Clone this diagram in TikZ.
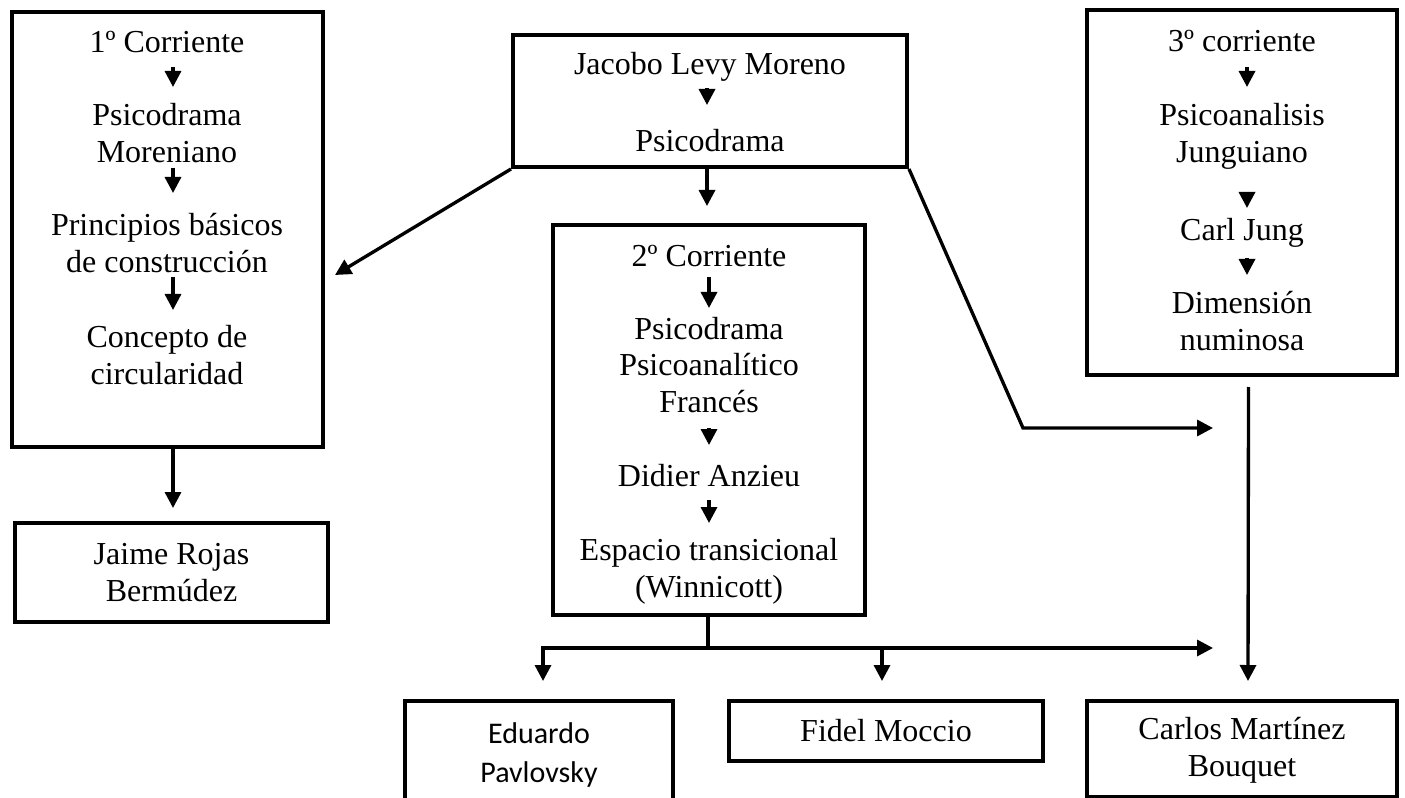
\documentclass[tikz,border=0pt]{standalone}
\usepackage{fontspec}
\setmainfont{Liberation Serif}
\newfontfamily\calibrifont{Carlito}
\usetikzlibrary{arrows.meta,calc,fit}

\begin{document}
\begin{tikzpicture}[x=0.75pt,y=-0.75pt,
  box/.style={draw, line width=3pt, inner sep=0pt},
  txt/.style={font=\fontsize{24}{27.6}\selectfont, align=center, inner sep=0pt},
  sanstxt/.style={font=\calibrifont\fontsize{22.5}{29.5}\selectfont, align=center, inner sep=0pt},
  link/.style={line width=2.5pt},
  arr/.style={link, -{Triangle[length=12pt,width=12pt]}}
]
\useasboundingbox (0,0) rectangle (1405,798);

% ---- frames ----
\node[box, fit={(12,12) (323,447)}] (box1) {};
\node[box, fit={(513,35) (907,167)}] (moreno) {};
\node[box, fit={(553,225) (865,615)}] (box2) {};
\node[box, fit={(1087,10) (1397,375)}] (box3) {};
\node[box, fit={(15,523) (328,622)}] (jaime) {};
\node[box, fit={(405,701) (673,840)}] (eduardo) {};
\node[box, fit={(729,701) (1043,761)}] (fidel) {};
\node[box, fit={(1087,701) (1397,797)}] (carlos) {};

% ---- first current ----
\node[txt] (t11) at (167,42) {1º Corriente};
\node[txt] (t12) at (167,133) {Psicodrama\\Moreniano};
\node[txt] (t13) at (167,243) {Principios básicos\\de construcción};
\node[txt] (t14) at (167,355) {Concepto de\\circularidad};
\draw[arr] ($(t11)+(6,25)$) -- ($(t12)+(6,-46)$);
\draw[arr] ($(t12)+(6,35)$) -- ($(t13)+(6,-50)$);
\draw[arr] ($(t13)+(6,34)$) -- ($(t14)+(6,-45)$);

% ---- founder ----
\node[txt] (t01) at (710,67) {Jacobo Levy Moreno};
\node[txt] (t02) at (710,141) {Psicodrama};
\draw[arr] ($(t01)+(-3,21)$) -- ($(t02)+(-3,-36)$);

% ---- second current ----
\node[txt] (t21) at (709,256) {2º Corriente};
\node[txt] (t22) at (709,365) {Psicodrama\\Psicoanalítico\\Francés};
\node[txt] (t23) at (709,476) {Didier Anzieu};
\node[txt] (t24) at (709,571) {Espacio transicional\\(Winnicott)};
\draw[arr] ($(t21)+(0,21)$) -- ($(t22)+(0,-57)$);
\draw[arr] ($(t22)+(0,63)$) -- ($(t23)+(0,-31)$);
\draw[arr] ($(t23)+(0,24)$) -- ($(t24)+(0,-48)$);

% ---- third current ----
\node[txt] (t31) at (1242,41) {3º corriente};
\node[txt] (t32) at (1242,136) {Psicoanalisis\\Junguiano};
\node[txt] (t33) at (1242,233) {Carl Jung};
\node[txt] (t34) at (1242,321) {Dimensión\\numinosa};
\draw[arr] ($(t31)+(5,26)$) -- ($(t32)+(5,-49)$);
\draw[arr] ($(t32)+(5,56)$) -- ($(t33)+(5,-25)$);
\draw[arr] ($(t33)+(5,25)$) -- ($(t34)+(5,-46)$);

% ---- authors ----
\node[txt] (tj) at (jaime.center) {Jaime Rojas\\Bermúdez};
\node[sanstxt] (te) at (539,755) {Eduardo\\Pavlovsky};
\node[txt] (tf) at (fidel.center) {Fidel Moccio};
\node[txt] (tc) at (1242,750) {Carlos Martínez\\Bouquet};

% ---- connections ----
\coordinate (bend1) at (1023,428);
\coordinate (tip1) at (1213,428);
\coordinate (j2) at (708,648);
\coordinate (tip2) at (1213,648);
\coordinate (ed) at ($(eduardo.north)+(4,-18)$);
\coordinate (fd) at ($(fidel.north)+(-4,-18)$);

\draw[arr] ($(box1.south)+(5.5,0)$) -- ($(jaime.north)+(1.5,-13)$);
\draw[arr] (moreno.south west) -- ($(box1.east)+(10,45.5)$);
\draw[arr] ($(moreno.south)+(-3,0)$) -- ($(box2.north)+(-2,-17)$);
\draw[arr] (moreno.south east) -- (bend1) -- (tip1);
\draw[link] ($(box2.south)+(-1,0)$) -- (j2);
\draw[arr] (j2) -| (ed);
\draw[arr] (j2) -- (tip2);
\draw[arr] (fd |- j2) -- (fd);
\draw[arr] ($(box3.south)+(6.5,10)$) -- ($(carlos.north)+(6,-18)$);
\end{tikzpicture}
\end{document}
